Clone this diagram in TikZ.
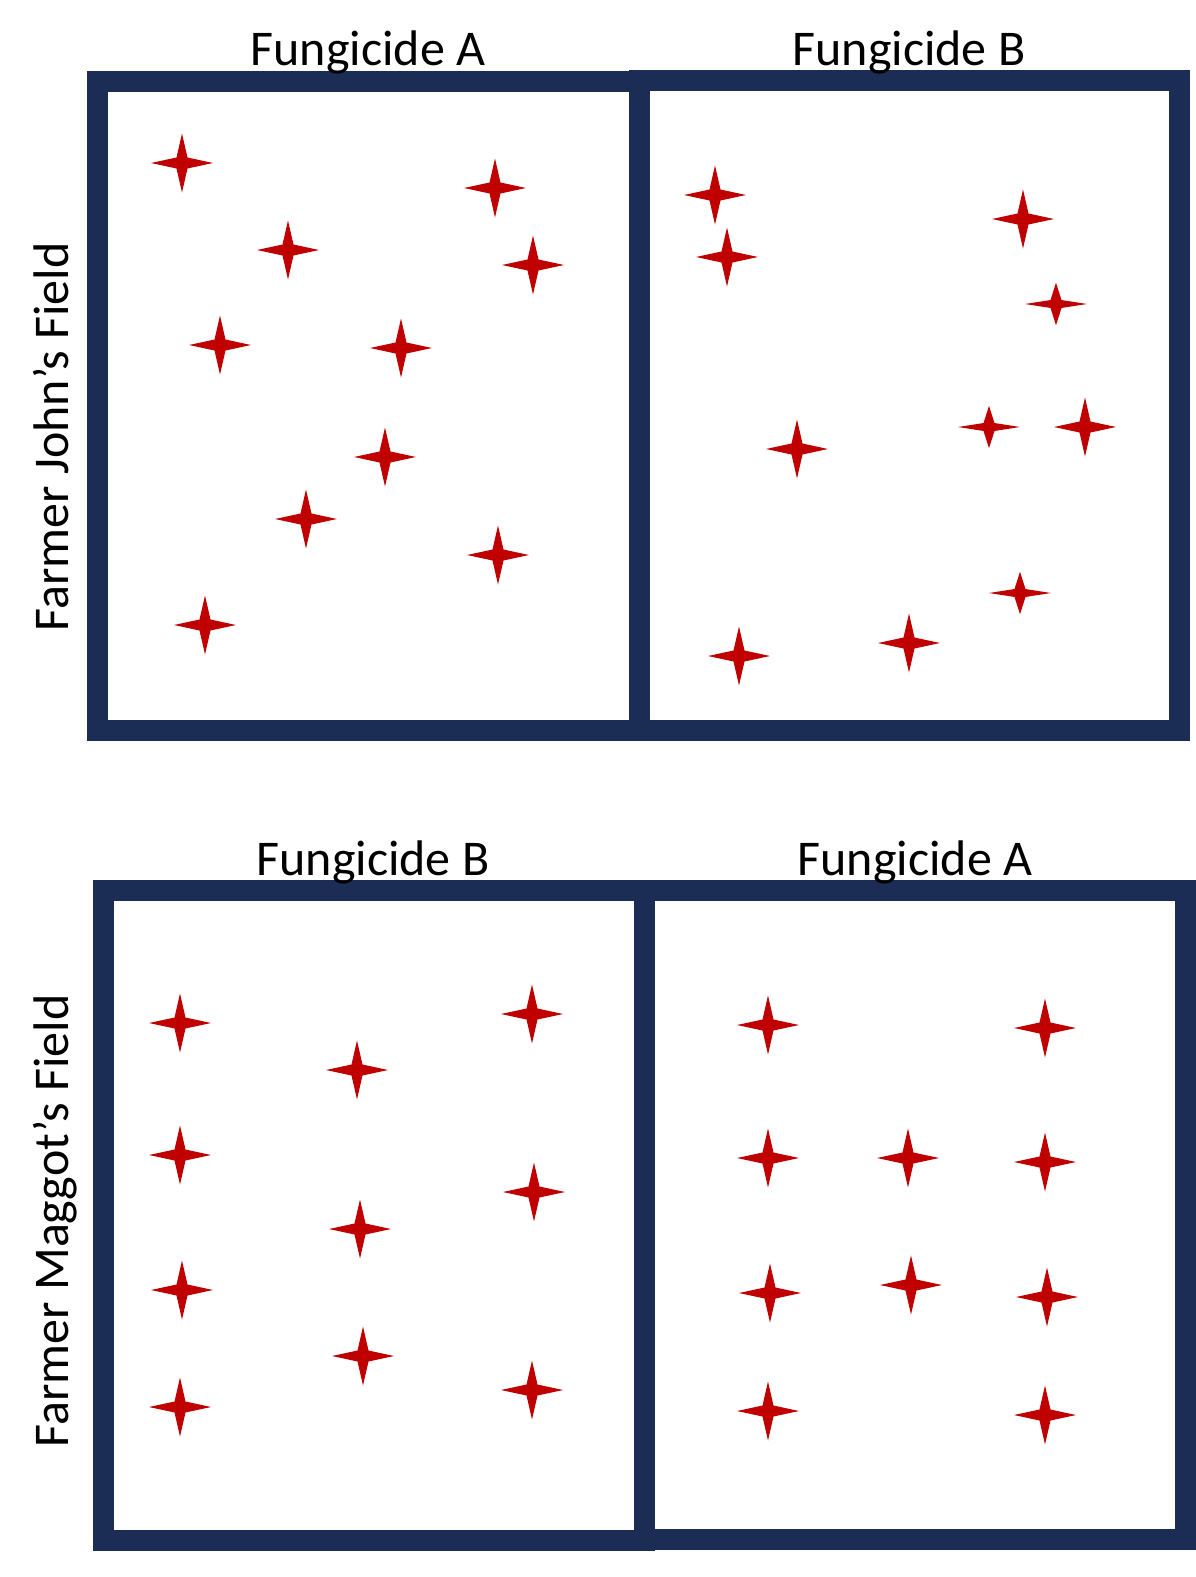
\documentclass[tikz,border=0pt]{standalone}
\usepackage{fontspec}
\setmainfont{Carlito}
\definecolor{fieldnavy}{HTML}{1B2D54}
\definecolor{spotred}{HTML}{C00000}

\begin{document}
\begin{tikzpicture}[x=1pt, y=-1pt,
  every node/.style={font=\fontsize{50}{60}\selectfont, inner sep=0pt},
  fieldbox/.style={draw=fieldnavy, line width=21pt},
  ttl/.style={anchor=base},
  side/.style={anchor=base, rotate=90},
  spot/.style={fill=spotred}
]
\path[use as bounding box, fill=white] (0,0) rectangle (1196,1577);

%% field plots
\draw[fieldbox] (97.5,81.5) rectangle (639.5,730.5);
\draw[fieldbox] (639.5,80.5) rectangle (1179.5,730.5);
\draw[fieldbox] (103.5,890.5) rectangle (644.5,1540.5);
\draw[fieldbox] (644.5,890.5) rectangle (1185.5,1539.5);

%% diseased spots (x/y/flattening)
\foreach \x/\y/\s in {182/163/1, 495/188/1, 288/250/1, 533/265/1, 220/345/1,
    401/348/1, 385/457/1, 306/519/1, 498/555/1, 205/625/1,
    715/195/1, 727/257/1, 1023/219/1, 1056/304/0.72, 797/449/1,
    989/427/0.72, 1085/427/1, 1020/593/0.72, 739/656/1, 909/643/1,
    180/1023/1, 357/1070/1, 532/1014/1, 180/1155/1, 360/1229/1,
    534/1192/1, 182/1290/1, 363/1356/1, 180/1407/1, 532/1390/1,
    768/1025/1, 1045/1028/1, 768/1158/1, 908/1158/1, 1045/1162/1,
    770/1293/1, 911/1285/1, 1047/1297/1, 768/1411/1, 1045/1415/1}
  \fill[spot, shift={(\x,\y)}, yscale=\s]
    (-31,0) -- (-5.5,-5.5) -- (0,-29.5) -- (5.5,-5.5) -- (31,0)
    -- (5.5,5.5) -- (0,29.5) -- (-5.5,5.5) -- cycle;

%% treatment labels
\node[ttl] (ttlTopA) at (368,65)  {Fungicide A};
\node[ttl] (ttlTopB) at (909,65)  {Fungicide B};
\node[ttl] (ttlLowB) at (373,875) {Fungicide B};
\node[ttl] (ttlLowA) at (915,875) {Fungicide A};

%% farm labels
\node[side] (farmJohn)   at (68,437)  {Farmer John’s Field};
\node[side] (farmMaggot) at (68,1221) {Farmer Maggot’s Field};

\end{tikzpicture}
\end{document}
